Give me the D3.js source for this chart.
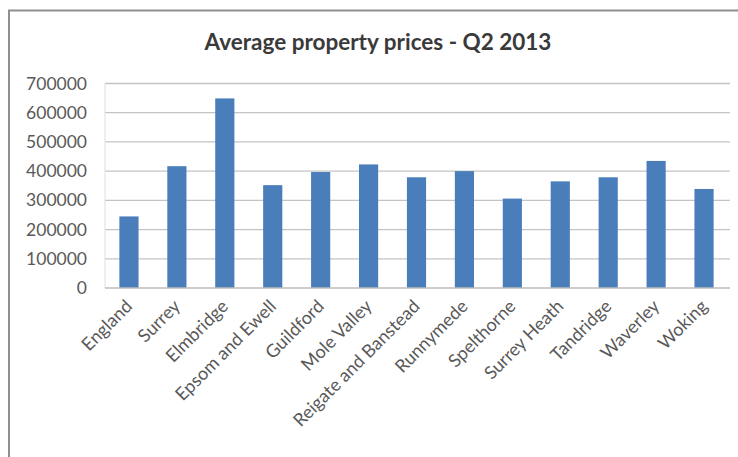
<!DOCTYPE html>
<html>
<head>
<meta charset="utf-8">
<script src="https://cdn.jsdelivr.net/npm/d3@7/dist/d3.min.js"></script>
<style>
  html, body { margin: 0; padding: 0; background: #fff; }
  svg { display: block; }
</style>
</head>
<body>
<svg id="chart" width="738" height="457"></svg>
<script>
// Average property prices by area, Q2 2013
const areas = ["England", "Surrey", "Elmbridge", "Epsom and Ewell", "Guildford",
  "Mole Valley", "Reigate and Banstead", "Runnymede", "Spelthorne",
  "Surrey Heath", "Tandridge", "Waverley", "Woking"];
const prices = [245000, 417000, 649000, 352000, 397000, 423000, 379000,
  400000, 306000, 365000, 379000, 435000, 339000];
const priceTicks = [0, 100000, 200000, 300000, 400000, 500000, 600000, 700000];
const chartTitle = "Average property prices - Q2 2013";

const svg = d3.select("#chart");
const plot = { left: 105, right: 728, top: 83.5, bottom: 288 };
const font = "Lato, 'Open Sans', sans-serif";

// Chart frame (left and top edges)
svg.append("path")
  .attr("d", "M9,457 V10.5 H738")
  .attr("fill", "none")
  .attr("stroke", "#8f8f8f")
  .attr("stroke-width", 2);

const x = d3.scaleBand().domain(areas).range([plot.left, plot.right])
  .paddingInner(0.6).paddingOuter(0.3);
const y = d3.scaleLinear().domain([0, 700000]).range([plot.bottom, plot.top]);

// Horizontal gridlines
svg.append("g")
  .selectAll("line").data(priceTicks.filter(d => d > 0)).join("line")
  .attr("x1", plot.left).attr("x2", plot.right + 2)
  .attr("y1", d => y(d)).attr("y2", d => y(d))
  .attr("stroke", "#c4c4c4").attr("stroke-width", 1.3);

// Faint left edge of the plot area
svg.append("line")
  .attr("x1", plot.left).attr("x2", plot.left)
  .attr("y1", plot.top).attr("y2", plot.bottom)
  .attr("stroke", "#dedede").attr("stroke-width", 1);

// Bars
svg.append("g")
  .selectAll("rect").data(areas).join("rect")
  .attr("x", d => x(d))
  .attr("width", x.bandwidth())
  .attr("y", (d, i) => y(prices[i]))
  .attr("height", (d, i) => y(0) - y(prices[i]))
  .attr("fill", "#4a7ebb");

// Category axis line
svg.append("line")
  .attr("x1", plot.left).attr("x2", plot.right + 2)
  .attr("y1", y(0)).attr("y2", y(0))
  .attr("stroke", "#bdbdbd").attr("stroke-width", 1.3);

// Value axis labels
const yAxis = d3.axisLeft(y).tickValues(priceTicks).tickSize(0).tickPadding(0)
  .tickFormat(d3.format("d"));
const yg = svg.append("g").attr("transform", "translate(87,0)").call(yAxis);
yg.select(".domain").remove();
yg.selectAll("text")
  .attr("font-family", font).attr("font-size", 17.5).attr("fill", "#595959");

// Category labels, rotated
const xAxis = d3.axisBottom(x).tickSize(0).tickPadding(0);
const xg = svg.append("g").attr("transform", `translate(0,${plot.bottom})`).call(xAxis);
xg.select(".domain").remove();
xg.selectAll("text")
  .attr("font-family", font).attr("font-size", 18).attr("fill", "#595959")
  .attr("text-anchor", "end")
  .attr("dy", "0.35em")
  .attr("transform", "translate(0,15) rotate(-45)");

// Title
svg.append("text")
  .attr("x", 378).attr("y", 50)
  .attr("text-anchor", "middle")
  .attr("font-family", font).attr("font-weight", "bold").attr("font-size", 22.5)
  .attr("fill", "#3a3a3a")
  .text(chartTitle);
</script>
</body>
</html>
